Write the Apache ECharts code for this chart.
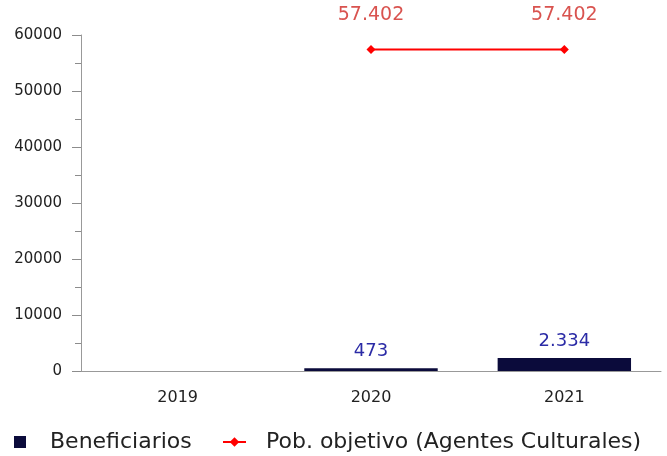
<!DOCTYPE html>
<html>
<head>
<meta charset="utf-8">
<script src="https://cdn.jsdelivr.net/npm/echarts@6/dist/echarts.min.js"></script>
<style>
  html, body { margin: 0; padding: 0; background: #fff; }
</style>
</head>
<body>
<div id="chart" style="width:667px;height:456px;"></div>
<script>
const years = ['2019', '2020', '2021']
const beneficiarios = [null, 473, 2334]
const poblacion = [null, 57402, 57402]
const yTicks = [0, 10000, 20000, 30000, 40000, 50000, 60000]

const fmt = v => v.toLocaleString('de-DE')
const font = 'DejaVu Sans'

const chart = echarts.init(document.getElementById('chart'))
chart.setOption({
  animation: false,
  textStyle: { fontFamily: font },
  grid: { left: 81, right: 6, top: 35, bottom: 85 },
  legend: [
    {
      left: 14,
      top: 431,
      padding: 0,
      itemWidth: 12,
      itemHeight: 12,
      textStyle: { fontFamily: font, fontSize: 22, color: '#222', padding: [0, 0, 0, 19] },
      data: [{ name: 'Beneficiarios', icon: 'rect' }]
    },
    {
      left: 222,
      top: 431,
      padding: 0,
      itemWidth: 23,
      itemHeight: 12,
      textStyle: { fontFamily: font, fontSize: 22, color: '#222', padding: [0, 0, 0, 15] },
      data: ['Pob. objetivo (Agentes Culturales)']
    }
  ],
  xAxis: {
    type: 'category',
    data: years,
    axisLine: { lineStyle: { color: '#999' } },
    axisTick: { show: false },
    axisLabel: { color: '#222', fontSize: 16, margin: 19 }
  },
  yAxis: {
    type: 'value',
    min: yTicks[0],
    max: yTicks[yTicks.length - 1],
    interval: 10000,
    splitLine: { show: false },
    axisLine: { show: true, lineStyle: { color: '#999' } },
    axisTick: { show: true, length: 9, lineStyle: { color: '#8c8c8c' } },
    minorTick: { show: true, splitNumber: 2, length: 6, lineStyle: { color: '#8c8c8c' } },
    axisLabel: { color: '#222', fontSize: 15, margin: 19, formatter: v => String(v) }
  },
  series: [
    {
      name: 'Beneficiarios',
      type: 'bar',
      data: beneficiarios,
      barWidth: '69%',
      itemStyle: { color: '#0b0b3b' },
      label: {
        show: true,
        position: 'top',
        distance: 8,
        color: '#2b2ba6',
        fontSize: 18,
        formatter: p => fmt(p.value)
      }
    },
    {
      name: 'Pob. objetivo (Agentes Culturales)',
      type: 'line',
      data: poblacion,
      color: '#ff0000',
      symbol: 'diamond',
      symbolSize: 9,
      lineStyle: { color: '#ff0000', width: 2 },
      itemStyle: { color: '#ff0000' },
      label: {
        show: true,
        position: 'top',
        distance: 20,
        color: '#d9534f',
        fontSize: 19,
        formatter: p => fmt(p.value)
      }
    }
  ]
})
</script>
</body>
</html>
